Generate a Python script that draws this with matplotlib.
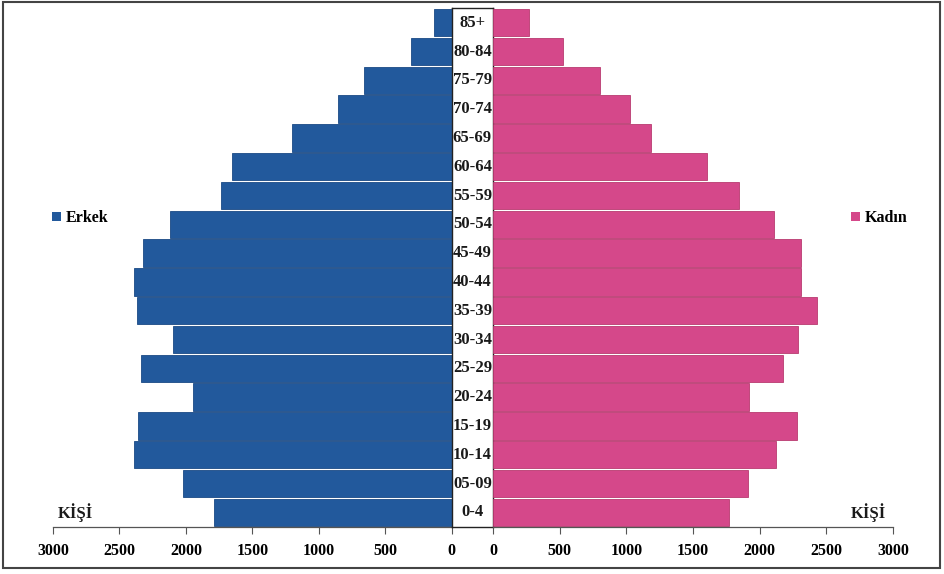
import matplotlib
matplotlib.use("Agg")
import matplotlib.pyplot as plt
from matplotlib.patches import Patch, Rectangle

age_groups = ["0-4", "05-09", "10-14", "15-19", "20-24", "25-29", "30-34", "35-39",
              "40-44", "45-49", "50-54", "55-59", "60-64", "65-69", "70-74", "75-79",
              "80-84", "85+"]
erkek = [1787, 2020, 2391, 2364, 1950, 2341, 2095, 2371, 2389, 2326, 2118, 1739,
         1652, 1205, 856, 663, 307, 132]
kadin = [1767, 1914, 2124, 2280, 1923, 2178, 2286, 2427, 2307, 2307, 2106, 1842,
         1607, 1187, 1031, 801, 524, 270]
ticks = [0, 500, 1000, 1500, 2000, 2500, 3000]
tick_labels = [str(t) for t in ticks]

blue = "#22599C"
pink = "#D5488A"
serif = ["Liberation Serif", "DejaVu Serif"]

W, H = 944, 574
fig = plt.figure(figsize=(W / 100, H / 100), dpi=100)
fig.patch.set_facecolor("white")

def fx(px):
    return px / W

def fy(py):
    return 1 - py / H

top_px, bot_px = 8.3, 526.7
ax_bottom = fy(bot_px)
ax_height = (bot_px - top_px) / H

axL = fig.add_axes([fx(53), ax_bottom, fx(451.8 - 53), ax_height])
axM = fig.add_axes([fx(451.8), ax_bottom, fx(493 - 451.8), ax_height])
axR = fig.add_axes([fx(493), ax_bottom, fx(893 - 493), ax_height])

ypos = list(range(len(age_groups)))
bh = 0.95
axL.barh(ypos, erkek, height=bh, color=blue, edgecolor="#1a4a85", linewidth=0.6)
axR.barh(ypos, kadin, height=bh, color=pink, edgecolor="#b83a70", linewidth=0.6)

for ax in (axL, axR):
    ax.set_ylim(-0.5, len(age_groups) - 0.5)
    ax.set_yticks([])
    for s in ("top", "left", "right"):
        ax.spines[s].set_visible(False)
    ax.spines["bottom"].set_color("#555555")
    ax.spines["bottom"].set_linewidth(0.9)
    ax.set_xticks(ticks)
    ax.set_xticklabels(tick_labels, fontfamily=serif, fontweight="bold", fontsize=11.5)
    ax.tick_params(axis="x", direction="out", length=5, width=0.8, color="#555555", pad=7)
    ax.set_facecolor("none")

axL.set_xlim(3000, 0)
axR.set_xlim(0, 3000)

axM.set_ylim(-0.5, len(age_groups) - 0.5)
axM.set_xlim(0, 1)
axM.set_xticks([])
axM.set_yticks([])
for s in axM.spines.values():
    s.set_color("#222222")
    s.set_linewidth(1.0)
for y, lab in zip(ypos, age_groups):
    axM.text(0.5, y, lab, ha="center", va="center", fontfamily=serif,
             fontweight="bold", fontsize=12, color="#1a1a1a")

axL.legend(handles=[Patch(facecolor=blue)], labels=["Erkek"], frameon=False,
           loc="center left", bbox_to_anchor=(fx(38), fy(218)), bbox_transform=fig.transFigure,
           handlelength=0.55, handleheight=0.55, handletextpad=0.3,
           prop={"family": serif, "weight": "bold", "size": 11.5})
axR.legend(handles=[Patch(facecolor=pink)], labels=["Kadın"], frameon=False,
           loc="center left", bbox_to_anchor=(fx(837), fy(218)), bbox_transform=fig.transFigure,
           handlelength=0.55, handleheight=0.55, handletextpad=0.3,
           prop={"family": serif, "weight": "bold", "size": 11.5})

fig.text(fx(75), fy(513), "KİŞİ", ha="center", va="center", fontfamily=serif,
         fontweight="bold", fontsize=12, color="#1a1a1a")
fig.text(fx(868), fy(513), "KİŞİ", ha="center", va="center", fontfamily=serif,
         fontweight="bold", fontsize=12, color="#1a1a1a")

fig.patches.append(Rectangle((fx(3), fy(568)), fx(940 - 3), (568 - 2) / H,
                             transform=fig.transFigure, fill=False,
                             edgecolor="#444444", linewidth=1.5))

fig.savefig("out.png", dpi=100, facecolor="white")
